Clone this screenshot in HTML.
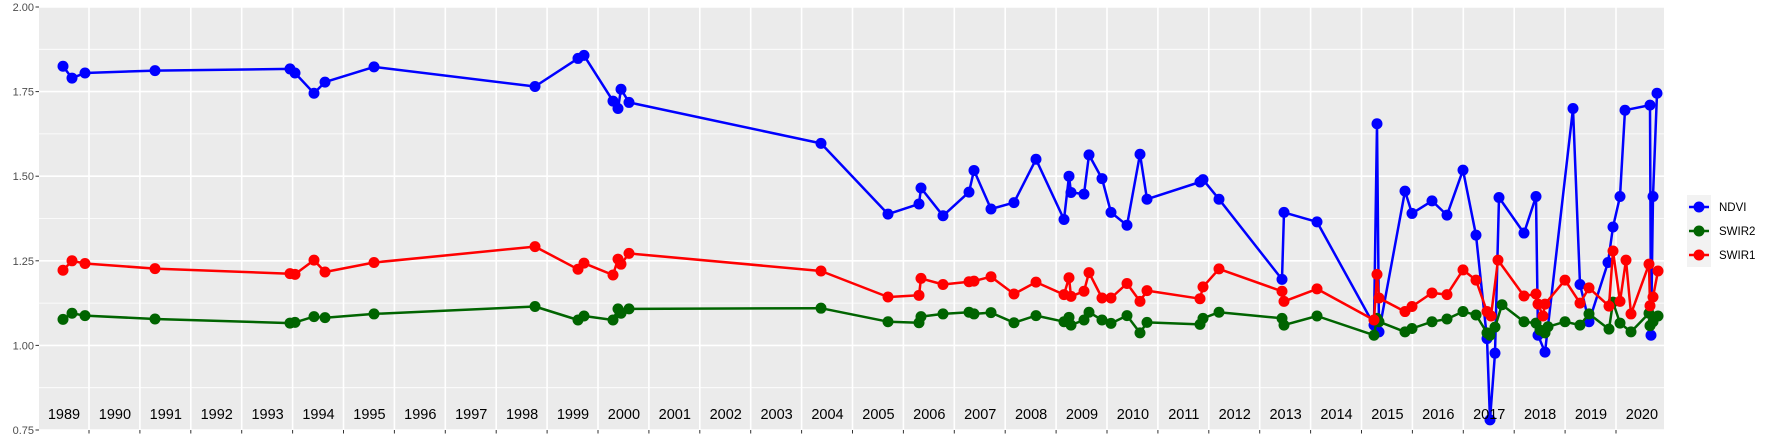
<!DOCTYPE html>
<html><head><meta charset="utf-8"><style>
body{margin:0;background:#fff;}
svg{display:block;font-family:"Liberation Sans",sans-serif;}
</style></head><body>
<svg id="s" width="1773" height="442" xmlns="http://www.w3.org/2000/svg">
<rect x="39" y="7" width="1625" height="423" fill="#ebebeb"/>
<g id="grid"></g>
<g id="series"></g>
<g id="axes"></g>
<rect x="1687" y="195" width="24" height="72" fill="#f2f2f2"/>
<line x1="1689" y1="207" x2="1709" y2="207" stroke="#0000ff" stroke-width="2.5"/><circle cx="1699" cy="207" r="5.5" fill="#0000ff"/>
<line x1="1689" y1="231" x2="1709" y2="231" stroke="#006400" stroke-width="2.5"/><circle cx="1699" cy="231" r="5.5" fill="#006400"/>
<line x1="1689" y1="255" x2="1709" y2="255" stroke="#ff0000" stroke-width="2.5"/><circle cx="1699" cy="255" r="5.5" fill="#ff0000"/>
<text x="1719" y="211" font-size="11.5" fill="#000">NDVI</text>
<text x="1719" y="235" font-size="11.5" fill="#000">SWIR2</text>
<text x="1719" y="259" font-size="11.5" fill="#000">SWIR1</text>
</svg>
<script>
var NS="http://www.w3.org/2000/svg";
function Y(v){return 7+(2-v)*338.4;}
function el(p,t,a,txt){var e=document.createElementNS(NS,t);for(var k in a)e.setAttribute(k,a[k]);if(txt!==undefined)e.textContent=txt;document.getElementById(p).appendChild(e);return e;}
for(var i=0;i<=10;i++){var v=0.75+i*0.125;var maj=(i%2==0);
 el("grid","line",{x1:39,x2:1664,y1:Y(v),y2:Y(v),stroke:"#fff","stroke-width":maj?1.6:0.8});}
for(var k=0;k<31;k++){var x=89+k*50.9;
 el("grid","line",{x1:x,x2:x,y1:7,y2:430,stroke:"#fff","stroke-width":1.6});
 el("axes","line",{x1:x,x2:x,y1:430,y2:433.5,stroke:"#333","stroke-width":1});}
for(var k=0;k<32;k++){var x=64+k*50.9;
 el("axes","text",{x:x,y:419,"font-size":"14.5","text-anchor":"middle",fill:"#000"},String(1989+k));}
["0.75","1.00","1.25","1.50","1.75","2.00"].forEach(function(t){var y=Y(parseFloat(t));
 el("axes","line",{x1:35.5,x2:39,y1:y,y2:y,stroke:"#333","stroke-width":1});
 el("axes","text",{x:34,y:y+4,"font-size":"11","text-anchor":"end",fill:"#4d4d4d"},t);});
var ndvi=[[63,1.825],[72,1.79],[85,1.805],[155,1.812],[290,1.817],[295,1.805],[314,1.745],[325,1.778],[374,1.823],[535,1.765],[578,1.848],[584,1.857],[613,1.722],[618,1.70],[621,1.757],[629,1.718],[821,1.597],[888,1.388],[919,1.418],[921,1.465],[943,1.383],[969,1.453],[974,1.517],[991,1.403],[1014,1.422],[1036,1.55],[1064,1.372],[1069,1.50],[1071,1.452],[1084,1.447],[1089,1.563],[1102,1.493],[1111,1.393],[1127,1.355],[1140,1.565],[1147,1.432],[1200,1.483],[1203,1.49],[1219,1.432],[1282,1.195],[1284,1.393],[1317,1.365],[1374,1.06],[1377,1.655],[1379,1.04],[1405,1.456],[1412,1.39],[1432,1.427],[1447,1.385],[1463,1.518],[1476,1.326],[1487,1.02],[1490,0.78],[1495,0.977],[1499,1.437],[1524,1.332],[1536,1.44],[1538,1.03],[1545,0.98],[1573,1.70],[1580,1.18],[1589,1.07],[1608,1.245],[1613,1.35],[1620,1.44],[1625,1.695],[1650,1.71],[1651,1.03],[1653,1.44],[1657,1.745]];
var swir2=[[63,1.077],[72,1.095],[85,1.088],[155,1.078],[290,1.066],[295,1.068],[314,1.085],[325,1.082],[374,1.093],[535,1.115],[578,1.075],[584,1.087],[613,1.075],[618,1.108],[621,1.095],[629,1.108],[821,1.11],[888,1.07],[919,1.067],[921,1.085],[943,1.093],[969,1.098],[974,1.093],[991,1.097],[1014,1.067],[1036,1.088],[1064,1.07],[1069,1.083],[1071,1.06],[1084,1.075],[1089,1.098],[1102,1.075],[1111,1.065],[1127,1.088],[1140,1.037],[1147,1.068],[1200,1.062],[1203,1.08],[1219,1.098],[1282,1.08],[1284,1.06],[1317,1.087],[1374,1.03],[1377,1.08],[1379,1.07],[1405,1.04],[1412,1.05],[1432,1.07],[1447,1.078],[1463,1.10],[1476,1.09],[1487,1.037],[1490,1.03],[1495,1.054],[1502,1.12],[1524,1.07],[1536,1.066],[1540,1.045],[1545,1.037],[1548,1.055],[1565,1.07],[1580,1.06],[1589,1.093],[1609,1.048],[1613,1.128],[1620,1.066],[1631,1.04],[1649,1.095],[1650,1.058],[1653,1.07],[1658,1.087]];
var swir1=[[63,1.222],[72,1.25],[85,1.242],[155,1.227],[290,1.212],[295,1.21],[314,1.252],[325,1.217],[374,1.245],[535,1.292],[578,1.225],[584,1.243],[613,1.208],[618,1.255],[621,1.24],[629,1.272],[821,1.22],[888,1.143],[919,1.148],[921,1.198],[943,1.18],[969,1.188],[974,1.19],[991,1.203],[1014,1.152],[1036,1.187],[1064,1.15],[1069,1.20],[1071,1.145],[1084,1.16],[1089,1.215],[1102,1.14],[1111,1.14],[1127,1.183],[1140,1.13],[1147,1.162],[1200,1.138],[1203,1.173],[1219,1.226],[1282,1.16],[1284,1.13],[1317,1.167],[1374,1.075],[1377,1.21],[1379,1.14],[1405,1.10],[1412,1.115],[1432,1.155],[1447,1.15],[1463,1.223],[1476,1.193],[1487,1.10],[1491,1.087],[1498,1.252],[1524,1.146],[1536,1.152],[1538,1.122],[1543,1.087],[1545,1.122],[1565,1.193],[1580,1.125],[1589,1.17],[1609,1.116],[1613,1.279],[1620,1.13],[1626,1.252],[1631,1.093],[1649,1.24],[1650,1.117],[1653,1.143],[1658,1.22]];
function draw(d,c){var pts=d.map(function(p){return p[0]+","+Y(p[1]).toFixed(1);}).join(" ");
 el("series","polyline",{points:pts,fill:"none",stroke:c,"stroke-width":2.5,"stroke-linejoin":"round"});
 d.forEach(function(p){el("series","circle",{cx:p[0],cy:Y(p[1]),r:5.5,fill:c});});}
draw(ndvi,"#0000ff");draw(swir2,"#006400");draw(swir1,"#ff0000");
</script>
</body></html>
